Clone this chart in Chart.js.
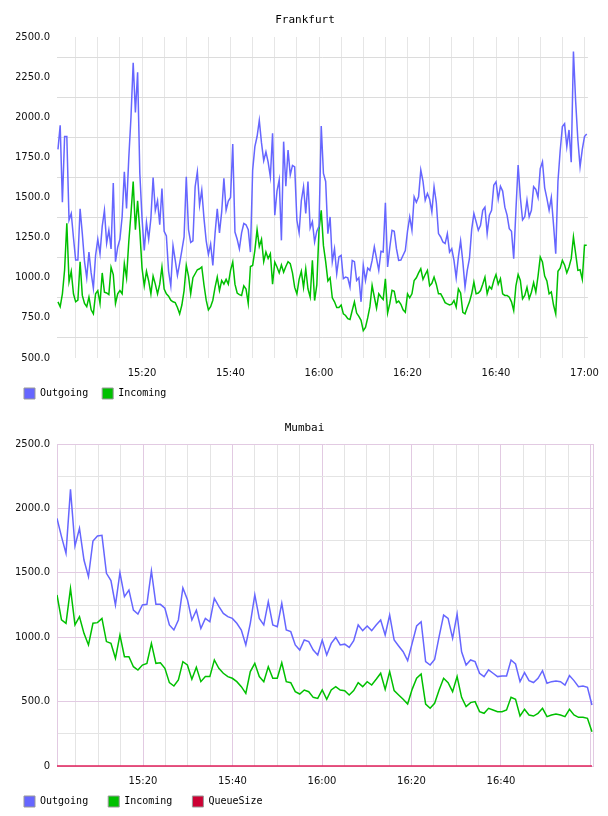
<!DOCTYPE html>
<html><head><meta charset="utf-8">
<script src="https://cdn.jsdelivr.net/npm/chart.js@4.4.1/dist/chart.umd.min.js"></script>
<style>
html,body{margin:0;padding:0;background:#fff;overflow:hidden;width:608px;height:816px;}
#c1{position:absolute;left:0;top:0;}
#c2{position:absolute;left:0;top:409px;}
</style></head><body>
<canvas id="c1" width="608" height="409"></canvas>
<canvas id="c2" width="608" height="408"></canvas>
<script>
// ---------- DATA ----------
// time axis: minutes after 15:00
const timeTickMinutes = [20, 40, 60, 80, 100, 120];
const timeTickLabels = ['15:20', '15:40', '16:00', '16:20', '16:40', '17:00'];
const mumbaiTimeTickLabels = ['15:20', '15:40', '16:00', '16:20', '16:40', ''];

const frankfurtYTickValues = [500, 750, 1000, 1250, 1500, 1750, 2000, 2250, 2500];
const frankfurtYTickLabels = ['500.0', '750.0', '1000.0', '1250.0', '1500.0', '1750.0', '2000.0', '2250.0', '2500.0'];
const mumbaiYTickValues = [0, 500, 1000, 1500, 2000, 2500];
const mumbaiYTickLabels = ['0', '500.0', '1000.0', '1500.0', '2000.0', '2500.0'];

// Frankfurt samples every 30 s, starting 15:01
const frankfurtStart = 1.0;
const frankfurtStep = 0.5;
const frankfurtOutgoing = [
  1800,1950,1470,1880,1880,1360,1400,1250,1110,1110,
  1430,1275,1100,1000,1160,1030,935,1140,1240,1150,
  1320,1420,1215,1296,1180,1590,1100,1190,1240,1380,
  1660,1431,1745,2000,2340,2030,2280,1650,1370,1170,
  1345,1240,1370,1625,1420,1480,1330,1556,1290,1260,
  1040,950,1200,1110,1015,1090,1170,1254,1629,1300,
  1220,1230,1567,1660,1452,1546,1370,1230,1145,1210,
  1077,1275,1430,1280,1410,1619,1421,1478,1500,1833,
  1285,1240,1180,1280,1338,1330,1300,1160,1671,1817,
  1880,1980,1840,1730,1785,1720,1629,1900,1390,1540,
  1610,1233,1848,1570,1796,1640,1700,1690,1358,1280,
  1480,1567,1400,1600,1310,1350,1223,1290,1320,1946,
  1650,1600,1275,1379,1100,1180,1025,1130,1140,994,
  1004,1000,942,1108,1100,983,1000,850,1077,983,
  1060,1046,1108,1192,1119,1046,1165,1160,1467,1067,
  1190,1296,1290,1181,1108,1110,1140,1170,1290,1379,
  1296,1504,1470,1504,1671,1600,1483,1525,1490,1410,
  1567,1470,1275,1254,1223,1213,1275,1160,1181,1108,
  1000,1130,1230,1100,942,1046,1120,1300,1400,1350,
  1296,1327,1420,1440,1275,1390,1420,1577,1598,1490,
  1570,1540,1440,1390,1306,1290,1119,1420,1702,1500,
  1360,1380,1483,1380,1420,1567,1550,1500,1680,1723,
  1560,1494,1421,1500,1330,1150,1600,1790,1942,1960,
  1817,1921,1720,2410,2100,1860,1692,1800,1880,1895
];
const frankfurtIncoming = [
  850,820,900,1050,1340,975,1040,900,850,860,
  1100,890,840,820,880,800,775,900,920,840,
  1030,910,905,895,1065,1020,840,900,920,900,
  1088,1000,1223,1400,1600,1300,1480,1290,1060,950,
  1040,980,900,1010,960,900,960,1067,930,900,
  885,860,850,845,815,775,830,920,1077,1010,
  900,1000,1025,1050,1056,1067,955,860,800,820,
  860,940,1004,920,983,960,990,960,1046,1098,
  960,905,895,890,950,930,840,1070,1077,1171,
  1300,1195,1240,1100,1160,1120,1150,960,1098,1067,
  1030,1080,1035,1070,1100,1088,1030,940,900,990,
  1040,940,1056,930,879,1108,858,955,1300,1420,
  1200,1100,980,1000,875,850,815,815,830,775,
  765,745,740,796,850,780,760,735,670,690,
  750,820,952,880,810,900,880,865,994,780,
  840,921,915,845,855,835,800,785,900,875,
  900,983,1000,1030,1056,990,1020,1046,950,965,
  1004,960,900,900,875,845,837,830,835,858,
  817,930,905,785,775,815,850,900,973,900,
  905,920,960,1004,900,945,930,983,1020,960,
  994,900,890,890,879,850,796,950,1020,983,
  869,890,940,870,910,970,910,1010,1129,1098,
  1010,980,900,912,830,775,1040,1060,1108,1080,
  1030,1067,1119,1254,1150,1046,1050,990,1202,1202
];

// Mumbai samples about every minute
const mumbaiStart = 0.78;
const mumbaiStep = 1.0046;
const mumbaiOutgoing = [
  1923,1781,1651,2148,1708,1845,1599,1470,1747,1786,
  1791,1496,1440,1250,1501,1315,1366,1210,1180,1250,
  1255,1515,1255,1255,1225,1095,1056,1134,1382,1293,
  1134,1210,1068,1146,1120,1302,1240,1185,1160,1146,
  1108,1056,940,1108,1328,1146,1095,1276,1095,1082,
  1263,1056,1043,940,900,978,966,900,862,978,
  862,952,998,940,946,921,973,1095,1051,1087,
  1051,1095,1134,1017,1172,978,932,887,818,952,
  1087,1120,810,784,828,1004,1172,1146,991,1180,
  887,784,823,810,720,694,746,720,694,699,
  699,823,792,655,725,663,648,681,740,643,
  655,660,655,629,702,663,616,621,611,474
];
const mumbaiIncoming = [
  1328,1134,1108,1379,1095,1159,1030,940,1108,1113,
  1146,966,952,836,1017,849,849,771,745,784,
  797,952,797,802,758,647,621,668,810,784,
  673,766,655,694,694,823,758,720,694,681,
  655,616,564,733,797,694,655,771,681,681,
  802,655,647,577,559,590,577,533,525,590,
  518,590,616,590,585,551,585,647,616,655,
  629,673,720,595,733,585,551,518,481,595,
  681,714,481,448,487,590,681,647,577,694,
  533,461,492,500,422,409,448,435,422,422,
  435,533,518,388,440,396,388,409,448,383,
  396,404,396,383,440,396,378,378,370,266
];
const mumbaiQueueSize = [
  0,0,0,0,0,0,0,0,0,0, 0,0,0,0,0,0,0,0,0,0,
  0,0,0,0,0,0,0,0,0,0, 0,0,0,0,0,0,0,0,0,0,
  0,0,0,0,0,0,0,0,0,0, 0,0,0,0,0,0,0,0,0,0,
  0,0,0,0,0,0,0,0,0,0, 0,0,0,0,0,0,0,0,0,0,
  0,0,0,0,0,0,0,0,0,0, 0,0,0,0,0,0,0,0,0,0,
  0,0,0,0,0,0,0,0,0,0, 0,0,0,0,0,0,0,0,0,0
];

// ---------- STYLE ----------
const BLUE = '#6666ff', GREEN = '#00c000', RED = '#cc0033', QLINE = '#e0205a';
const MONO = 'DejaVu Sans Mono', SANS = 'DejaVu Sans';
const PINK = 'rgb(226,202,226)', GRAY = '#e4e4e4';

function series(start, step, vals) {
  return vals.map((v, i) => ({ x: start + i * step, y: v }));
}
function everyStep(from, to, step) {
  const out = [];
  for (let v = from; v <= to + 1e-9; v += step) out.push({ value: v });
  return out;
}
function lookup(values, labels, v) {
  const k = values.findIndex(t => Math.abs(t - v) < 1e-6);
  return k >= 0 ? labels[k] : '';
}
function legendOpts(padLen, swatches) {
  return {
    display: true, position: 'bottom', align: 'start',
    labels: {
      font: { family: MONO, size: 10 }, color: '#000',
      boxWidth: 11, boxHeight: 11, padding: 8,
      generateLabels: (chart) => chart.data.datasets.map((ds, i) => ({
        text: ds.label.padEnd(padLen),
        fillStyle: swatches[i], strokeStyle: '#999', lineWidth: 1,
        hidden: false, datasetIndex: i, fontColor: '#000'
      }))
    }
  };
}
const tickFont = { family: SANS, size: 10 };
const TICK_COLOR = '#111';

Chart.defaults.animation = false;

// ---------- FRANKFURT ----------
new Chart(document.getElementById('c1'), {
  type: 'line',
  data: {
    datasets: [
      { label: 'Outgoing', data: series(frankfurtStart, frankfurtStep, frankfurtOutgoing),
        borderColor: BLUE, backgroundColor: BLUE, borderWidth: 1.5, pointRadius: 0, tension: 0, fill: false },
      { label: 'Incoming', data: series(frankfurtStart, frankfurtStep, frankfurtIncoming),
        borderColor: GREEN, backgroundColor: GREEN, borderWidth: 1.5, pointRadius: 0, tension: 0, fill: false }
    ]
  },
  options: {
    responsive: false, devicePixelRatio: 1, animation: false,
    layout: { padding: { left: 16, right: 14, top: 0, bottom: 0 } },
    plugins: {
      title: { display: true, text: 'Frankfurt', color: '#000',
        font: { family: MONO, size: 11, weight: 'normal' }, padding: { top: 13.4, bottom: 10.4 } },
      legend: legendOpts(9, [BLUE, GREEN]),
      tooltip: { enabled: false }
    },
    scales: {
      x: {
        type: 'linear', min: 0.78, max: 120.78,
        afterBuildTicks: s => { s.ticks = everyStep(5, 120, 5); },
        afterFit: s => { s.height = 22; },
        ticks: { autoSkip: false, maxRotation: 0, padding: 9, color: TICK_COLOR, font: tickFont,
          callback: v => lookup(timeTickMinutes, timeTickLabels, v) },
        grid: { drawTicks: false, color: '#e6e6e6', lineWidth: 1 },
        border: { display: false }
      },
      y: {
        type: 'linear', min: 500, max: 2500,
        afterBuildTicks: s => { s.ticks = everyStep(500, 2500, 125); },
        afterFit: s => { s.width = 41; },
        ticks: { autoSkip: false, padding: 7, color: TICK_COLOR, font: tickFont,
          callback: v => lookup(frankfurtYTickValues, frankfurtYTickLabels, v) },
        grid: { drawTicks: false, lineWidth: 1,
          color: c => (c.tick && Math.abs(c.tick.value % 250) < 1e-6) ? 'rgba(0,0,0,0)' : '#dcdcdc' },
        border: { display: false }
      }
    }
  }
});

// ---------- MUMBAI ----------
const rightBorder = {
  id: 'rightBorder',
  beforeDatasetsDraw(chart) {
    const { ctx, chartArea } = chart;
    ctx.save();
    ctx.strokeStyle = PINK; ctx.lineWidth = 1;
    const x = Math.round(chartArea.right) + 0.5;
    ctx.beginPath(); ctx.moveTo(x, chartArea.top); ctx.lineTo(x, chartArea.bottom); ctx.stroke();
    ctx.restore();
  }
};
new Chart(document.getElementById('c2'), {
  type: 'line',
  data: {
    datasets: [
      { label: 'Outgoing', data: series(mumbaiStart, mumbaiStep, mumbaiOutgoing),
        borderColor: BLUE, backgroundColor: BLUE, borderWidth: 1.5, pointRadius: 0, tension: 0, fill: false },
      { label: 'Incoming', data: series(mumbaiStart, mumbaiStep, mumbaiIncoming),
        borderColor: GREEN, backgroundColor: GREEN, borderWidth: 1.5, pointRadius: 0, tension: 0, fill: false },
      { label: 'QueueSize', data: series(mumbaiStart, mumbaiStep, mumbaiQueueSize),
        borderColor: QLINE, backgroundColor: RED, borderWidth: 1.5, pointRadius: 0, tension: 0, fill: false,
        clip: 4 }
    ]
  },
  options: {
    responsive: false, devicePixelRatio: 1, animation: false,
    layout: { padding: { left: 16, right: 15, top: 0, bottom: 0 } },
    plugins: {
      title: { display: true, text: 'Mumbai', color: '#000',
        font: { family: MONO, size: 11, weight: 'normal' }, padding: { top: 12.4, bottom: 9.4 } },
      legend: legendOpts(10, [BLUE, GREEN, RED]),
      tooltip: { enabled: false }
    },
    scales: {
      x: {
        type: 'linear', min: 0.78, max: 120.56,
        afterBuildTicks: s => { s.ticks = everyStep(5, 120, 5); },
        afterFit: s => { s.height = 22; },
        ticks: { autoSkip: false, maxRotation: 0, padding: 9, color: TICK_COLOR, font: tickFont,
          callback: v => lookup(timeTickMinutes, mumbaiTimeTickLabels, v) },
        grid: { drawTicks: false, lineWidth: 1,
          color: c => (c.tick && Math.abs(c.tick.value % 20) < 1e-6) ? PINK : GRAY },
        border: { display: true, color: PINK }
      },
      y: {
        type: 'linear', min: 0, max: 2500,
        afterBuildTicks: s => { s.ticks = everyStep(0, 2500, 250); },
        afterFit: s => { s.width = 41; },
        ticks: { autoSkip: false, padding: 7, color: TICK_COLOR, font: tickFont,
          callback: v => lookup(mumbaiYTickValues, mumbaiYTickLabels, v) },
        grid: { drawTicks: false, lineWidth: 1,
          color: c => (c.tick && Math.abs(c.tick.value % 500) < 1e-6) ? PINK : GRAY },
        border: { display: true, color: PINK }
      }
    }
  },
  plugins: [rightBorder]
});
</script></body></html>
